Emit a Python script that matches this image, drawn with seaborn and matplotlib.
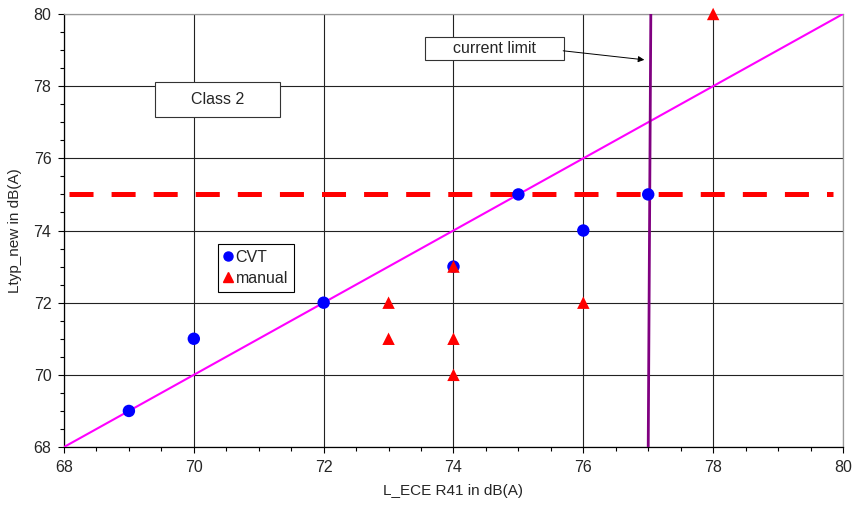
import matplotlib
matplotlib.use("Agg")
import matplotlib.pyplot as plt
import seaborn as sns
import pandas as pd
from matplotlib.lines import Line2D
from matplotlib.patches import Rectangle
from matplotlib.ticker import MultipleLocator

sns.set_theme(style="white")
plt.rcParams['font.family'] = ['Liberation Sans', 'DejaVu Sans']
plt.rcParams['lines.scale_dashes'] = False

cvt_x = [69, 70, 72, 74, 75, 76, 77]
cvt_y = [69, 71, 72, 73, 75, 74, 75]
man_x = [73, 73, 74, 74, 74, 76, 78]
man_y = [72, 71, 73, 71, 70, 72, 80]
diag_x = [68, 80]
diag_y = [68, 80]
limit_x = [77.0, 77.04]
limit_y = [68, 80]
hline_y = 75
hline_x = [68.08, 79.85]

df_cvt = pd.DataFrame({"x": cvt_x, "y": cvt_y})
df_man = pd.DataFrame({"x": man_x, "y": man_y})

fig = plt.figure(figsize=(8.52, 5.07), dpi=100)
ax = fig.add_axes([0.0751, 0.1183, 0.9894 - 0.0751, 0.9724 - 0.1183])

ax.set_xlim(68, 80)
ax.set_ylim(68, 80)
ax.xaxis.set_major_locator(MultipleLocator(2))
ax.yaxis.set_major_locator(MultipleLocator(2))
ax.xaxis.set_minor_locator(MultipleLocator(0.5))
ax.yaxis.set_minor_locator(MultipleLocator(0.5))
ax.grid(True, which='major', color='#222222', linewidth=0.8)
ax.set_axisbelow(True)
for s in ['left', 'bottom']:
    ax.spines[s].set_color('black')
    ax.spines[s].set_linewidth(0.9)
for s in ['top', 'right']:
    ax.spines[s].set_color('#999999')
    ax.spines[s].set_linewidth(0.9)
ax.tick_params(axis='both', which='major', direction='out', length=4, width=0.8,
               color='black', labelsize=11.5, bottom=True, left=True, pad=5)
ax.tick_params(axis='both', which='minor', direction='out', length=3, width=0.8,
               color='black', bottom=True, left=True)

# red dashed threshold
ax.plot(hline_x, [hline_y, hline_y], color='#ff0000', linewidth=3.6,
        linestyle=(0, (17.3, 13.0)), zorder=2)
# diagonal
sns.lineplot(x=diag_x, y=diag_y, ax=ax, color='#ff00ff', linewidth=1.5, zorder=3)
# current limit line
ax.plot(limit_x, limit_y, color='#800080', linewidth=2.0, zorder=3)

sns.scatterplot(data=df_cvt, x="x", y="y", ax=ax, color='#0000ff', marker='o',
                s=80, edgecolor='none', zorder=4, clip_on=False)
sns.scatterplot(data=df_man, x="x", y="y", ax=ax, color='#ff0000', marker='^',
                s=80, edgecolor='none', zorder=5, clip_on=False)

ax.set_xlabel("L_ECE R41 in dB(A)", fontsize=11, labelpad=7)
ax.set_ylabel("Ltyp_new in dB(A)", fontsize=11, labelpad=8)

# Text boxes (axes-fraction placement)
ax.add_patch(Rectangle((0.1168, 0.7621), 0.1605, 0.0808, transform=ax.transAxes,
                       facecolor='white', edgecolor='#333333', linewidth=0.8, zorder=6))
ax.text(0.1970, 0.8025, "Class 2", fontsize=11.5, ha='center', va='center',
        transform=ax.transAxes, zorder=7)
ax.add_patch(Rectangle((0.4634, 0.8938), 0.1784, 0.0531, transform=ax.transAxes,
                       facecolor='white', edgecolor='#333333', linewidth=0.8, zorder=6))
ax.text(0.5526, 0.9203, "current limit", fontsize=11.5, ha='center', va='center',
        transform=ax.transAxes, zorder=7)
ax.annotate("", xy=(76.94, 78.73), xytext=(75.69, 78.98),
            arrowprops=dict(arrowstyle='-|>', color='black', linewidth=0.7,
                            mutation_scale=9, shrinkA=0, shrinkB=0), zorder=6)

handles = [Line2D([], [], marker='o', color='#0000ff', linestyle='none', markersize=6.5),
           Line2D([], [], marker='^', color='#ff0000', linestyle='none', markersize=6.5)]
leg = ax.legend(handles, ["CVT", "manual"], loc='upper left',
                bbox_to_anchor=((218 - 64) / 779, 1 - (244 - 14) / 433),
                frameon=True, fancybox=False, framealpha=1, edgecolor='black',
                fontsize=11.5, handlelength=0.5, handletextpad=0.25, borderpad=0.35,
                labelspacing=0.4, borderaxespad=0)
leg.get_frame().set_linewidth(0.8)
leg.set_zorder(7)

fig.savefig("out.png", dpi=100)
